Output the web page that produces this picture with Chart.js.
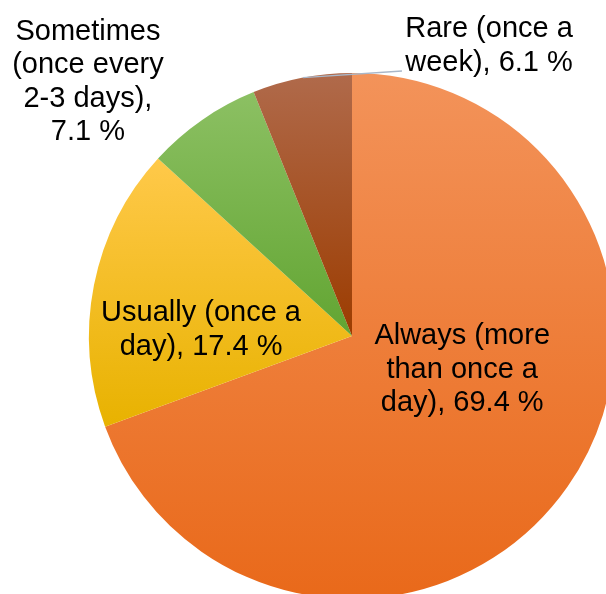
<!DOCTYPE html>
<html lang="en">
<head>
    <meta charset="UTF-8">
    <title>Frequency</title>
    <style>
        html, body { margin: 0; padding: 0; background: #fff; overflow: hidden; }
        #wrap { position: absolute; left: 0; top: 0; width: 640px; height: 640px; }
    </style>
</head>
<body>
    <div id="wrap">
        <canvas id="myChart" width="640" height="640"></canvas>
    </div>

    <script src="https://cdn.jsdelivr.net/npm/chart.js"></script>
    <script>
        // categories and shares (%)
        const categories = ['Always (more than once a day)', 'Usually (once a day)', 'Sometimes (once every 2-3 days)', 'Rare (once a week)'];
        const shares = [69.4, 17.4, 7.1, 6.1];
        // label text, split into lines
        const labelLines = [
            ['Always (more', 'than once a', 'day), 69.4 %'],
            ['Usually (once a', 'day), 17.4 %'],
            ['Sometimes', '(once every', '2-3 days),', '7.1 %'],
            ['Rare (once a', 'week), 6.1 %']
        ];
        // gradient stops per slice: top, bottom
        const topColors = ['#f3935a', '#ffc94a', '#8cc063', '#b06a4b'];
        const bottomColors = ['#e9691a', '#e8b200', '#62a532', '#9c3c00'];

        // vertical extent of a sector so each slice gets its own gradient
        function sliceRange(i, cx, cy, r) {
            const total = shares.reduce((a, b) => a + b, 0);
            let before = 0;
            for (let k = 0; k < i; k++) before += shares[k];
            const a0 = -Math.PI / 2 + 2 * Math.PI * before / total;
            const a1 = a0 + 2 * Math.PI * shares[i] / total;
            let ys = [cy, cy + r * Math.sin(a0), cy + r * Math.sin(a1)];
            [-Math.PI / 2, Math.PI / 2, 3 * Math.PI / 2].forEach(a => {
                if (a >= a0 && a <= a1) ys.push(cy + r * Math.sin(a));
            });
            return [Math.min(...ys), Math.max(...ys)];
        }

        function sliceFill(c) {
            const chart = c.chart;
            const area = chart.chartArea;
            const i = c.dataIndex;
            if (!area) return topColors[i];
            const cx = (area.left + area.right) / 2;
            const cy = (area.top + area.bottom) / 2;
            const r = Math.min(area.right - area.left, area.bottom - area.top) / 2;
            const [y0, y1] = sliceRange(i, cx, cy, r);
            const g = chart.ctx.createLinearGradient(0, y0, 0, y1);
            g.addColorStop(0, topColors[i]);
            g.addColorStop(1, bottomColors[i]);
            return g;
        }

        // labels: in-slice ones sit inside the pie, the two small ones outside
        const sliceLabels = {
            id: 'sliceLabels',
            afterDatasetsDraw(chart) {
                const ctx = chart.ctx;
                const arc = chart.getDatasetMeta(0).data[0];
                const cx = arc.x, cy = arc.y, r = arc.outerRadius;
                // label anchors relative to centre, in radius units
                const anchors = [
                    [0.419, 0.129],
                    [-0.574, -0.023],
                    [-1.004, -0.966],
                    [0.521, -1.102]
                ];
                // leader line for the small top slice
                const rare = chart.getDatasetMeta(0).data[3];
                const ang = rare.startAngle + (rare.endAngle - rare.startAngle) * 0.51;
                ctx.save();
                ctx.strokeStyle = '#a9b7c9';
                ctx.lineWidth = 1.5;
                ctx.beginPath();
                ctx.moveTo(cx + r * Math.cos(ang), cy + r * Math.sin(ang));
                ctx.lineTo(cx + r * 0.19, cy - r * 1.008);
                ctx.stroke();

                ctx.font = '29px "Liberation Sans", Arial, sans-serif';
                ctx.fillStyle = '#000';
                ctx.textAlign = 'center';
                ctx.textBaseline = 'middle';
                const lh = 33.5;
                labelLines.forEach((lines, i) => {
                    const x = cx + anchors[i][0] * r;
                    const y = cy + anchors[i][1] * r;
                    const y0 = y - (lines.length - 1) * lh / 2;
                    lines.forEach((t, j) => ctx.fillText(t, x, y0 + j * lh));
                });
                ctx.restore();
            }
        };

        const ctx = document.getElementById('myChart');
        let configs = {
            type: 'pie',
            data: {
                labels: categories,
                datasets: [{
                    data: shares,
                    backgroundColor: sliceFill,
                    borderWidth: 0
                }]
            },
            options: {
                responsive: false,
                animation: false,
                layout: {
                    padding: { left: 89, top: 73, right: 25, bottom: 41 }
                },
                plugins: {
                    legend: { display: false },
                    tooltip: { enabled: false }
                }
            },
            plugins: [sliceLabels]
        };

        let myChart = new Chart(ctx, configs);
    </script>
</body>
</html>
